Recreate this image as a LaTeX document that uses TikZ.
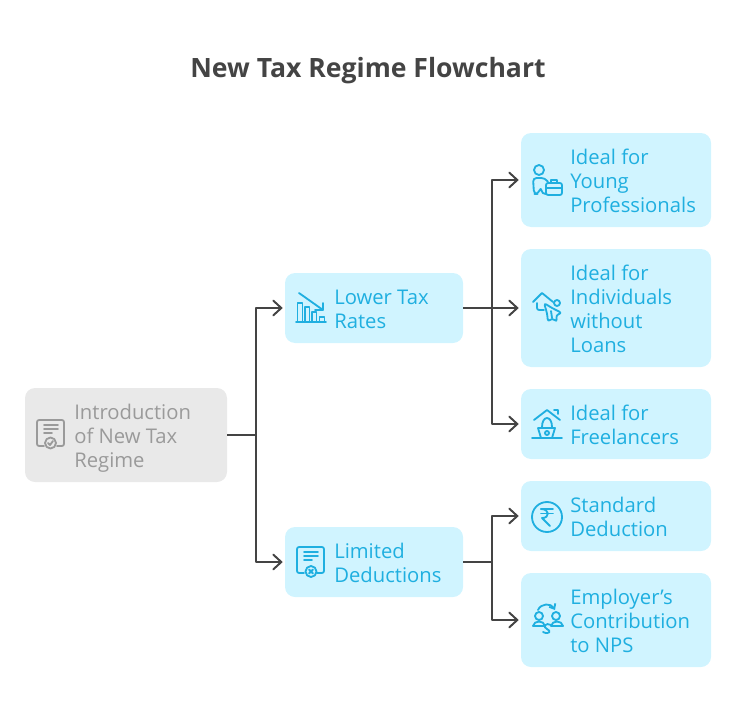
\documentclass[tikz,border=0pt]{standalone}
\usepackage{fontspec}
\setmainfont{Open Sans}
\usetikzlibrary{arrows.meta}
\definecolor{boxblue}{HTML}{D0F4FF}
\definecolor{inkblue}{HTML}{1FAFE0}
\definecolor{boxgray}{HTML}{E9E9E9}
\definecolor{inkgray}{HTML}{9A9A9A}
\definecolor{linegray}{HTML}{444444}
\tikzset{
  bluebox/.style={fill=boxblue, rounded corners=0.25cm, minimum width=#1*0.025cm},
  graybox/.style={fill=boxgray, rounded corners=0.25cm, minimum width=#1*0.025cm},
  bluetext/.style={anchor=west, align=left, inner sep=0pt, text=inkblue, font=\fontsize{14.4}{17}\selectfont},
  graytext/.style={bluetext, text=inkgray},
  link/.style={draw=linegray, line width=1.4pt, line join=round},
  linkto/.style={link, -{Straight Barb[length=5.7pt,width=10.5pt,line cap=round]}, shorten >=1.4pt},
  blueicon/.style={draw=inkblue, line width=1.3pt, line cap=round, line join=round},
  grayicon/.style={blueicon, draw=inkgray}
}
\begin{document}
\begin{tikzpicture}[x=0.025cm, y=-0.025cm]
  \useasboundingbox (0,0) rectangle (736,716);
  \node (title) at (368,71) {\fontsize{18.9}{23}\selectfont\bfseries\color{linegray}New Tax Regime Flowchart};
  % boxes
  \node[graybox=202, minimum height=94*0.025cm] (intro) at (126,435) {};
  \node[bluebox=178, minimum height=70*0.025cm] (lower) at (374,308) {};
  \node[bluebox=178, minimum height=70*0.025cm] (limited) at (374,562) {};
  \node[bluebox=190, minimum height=94*0.025cm] (young) at (616,180) {};
  \node[bluebox=190, minimum height=118*0.025cm] (indiv) at (616,308) {};
  \node[bluebox=190, minimum height=70*0.025cm] (free) at (616,424) {};
  \node[bluebox=190, minimum height=70*0.025cm] (std) at (616,516) {};
  \node[bluebox=190, minimum height=94*0.025cm] (emp) at (616,620) {};
  % texts
  \node[graytext] (introtext) at (74,438) {Introduction\\of New Tax\\Regime};
  \node[bluetext] (lowertext) at (334,309) {Lower Tax\\Rates};
  \node[bluetext] (limitedtext) at (334,563) {Limited\\Deductions};
  \node[bluetext] (youngtext) at (570,181) {Ideal for\\Young\\Professionals};
  \node[bluetext] (indivtext) at (570,309) {Ideal for\\Individuals\\without\\Loans};
  \node[bluetext] (freetext) at (570,425) {Ideal for\\Freelancers};
  \node[bluetext] (stdtext) at (570,517) {Standard\\Deduction};
  \node[bluetext] (emptext) at (570,621) {Employer's\\Contribution\\to NPS};
  % connectors
  \coordinate (j0) at (256,435);
  \coordinate (j1) at (492,308);
  \coordinate (j2) at (492,562);
  \draw[link] (intro.east) -- (j0);
  \draw[linkto] (j0) |- (lower.west);
  \draw[linkto] (j0) |- (limited.west);
  \draw[link] (lower.east) -- (j1);
  \draw[linkto] (j1) |- (young.west);
  \draw[linkto] (j1) -- (indiv.west);
  \draw[linkto] (j1) |- (free.west);
  \draw[link] (limited.east) -- (j2);
  \draw[linkto] (j2) |- (std.west);
  \draw[linkto] (j2) |- (emp.west);
  % icon intro
  \draw[grayicon, rounded corners=1.5pt] (44,446) -- (37,446) -- (37,420) -- (64,420) -- (64,446) -- (57,446);
  \draw[grayicon] (44,425) -- (58,425) (44,429) -- (58,429) (44,433) -- (52,433);
  \draw[grayicon] (50.5,443) circle (5.5);
  \draw[grayicon] (48,443) -- (50,445) -- (53,441);
  % icon lower
  \draw[blueicon] (296,322) -- (326,322);
  \draw[blueicon] (297.5,322) -- (297.5,303) -- (302.5,303) -- (302.5,322);
  \draw[blueicon] (305,322) -- (305,307) -- (309.5,307) -- (309.5,322);
  \draw[blueicon] (312,322) -- (312,312) -- (316.5,312) -- (316.5,322);
  \draw[blueicon] (319.5,322) -- (319.5,317) -- (324.5,317) -- (324.5,322);
  \draw[blueicon] (299,293) -- (323,310) (323,303) -- (323,310) -- (315,310);
  % icon limited
  \draw[blueicon, rounded corners=1.5pt] (304,573) -- (297,573) -- (297,547) -- (324,547) -- (324,573) -- (317,573);
  \draw[blueicon] (304,552) -- (318,552) (304,556) -- (318,556) (304,560) -- (312,560);
  \draw[blueicon] (311,571.5) circle (5.5);
  \draw[blueicon] (309,569.5) -- (313,573.5) (313,569.5) -- (309,573.5);
  % icon young
  \draw[blueicon] (539,170) circle (5);
  \draw[blueicon, rounded corners=2.5pt] (545,194) -- (542,194) -- (541,187) -- (538,194) -- (534,194) -- (533,178) -- (545,178) -- (548,182);
  \draw[blueicon, rounded corners=1.5pt] (546,183) rectangle (562,195);
  \draw[blueicon] (551,183) -- (551,180) -- (557,180) -- (557,183) (546,188) -- (562,188);
  % icon indiv
  \draw[blueicon] (533,302) -- (542,293) -- (553,302);
  \draw[blueicon, rounded corners=1.5pt] (537,303) -- (537,310) -- (544,310);
  \draw[blueicon] (557,303) circle (3);
  \draw[blueicon, rounded corners=2pt] (544,303) -- (552,308) -- (562,313) -- (556,315) -- (557,322) -- (552,318) -- (548,322) -- (547,313) -- cycle;
  \draw[blueicon] (551,311) -- (552,318);
  % icon free
  \draw[blueicon] (534,420) -- (547,410) -- (560,420);
  \draw[blueicon] (532,438) -- (562,438);
  \draw[blueicon] (538,428) -- (555,428) -- (552,438) (538,428) -- (541,438);
  \draw[blueicon] (547,433) circle (2);
  \draw[blueicon] (542,427) .. controls (542,415) and (552,415) .. (552,427);
  \draw[blueicon] (554,410) -- (558,410) -- (558,414);
  % icon std
  \draw[blueicon] (547,517) circle (15);
  \draw[blueicon] (541,509) -- (553,509) (541,513.5) -- (553,513.5);
  \draw[blueicon] (541,509) .. controls (550,509) and (550,518) .. (542,518) -- (550,526);
  % icon emp
  \draw[blueicon] (539,616) circle (4) (556,616) circle (4);
  \draw[blueicon] (533,626) .. controls (534,620) and (544,620) .. (545,626) -- (533,626);
  \draw[blueicon] (551,626) .. controls (552,620) and (562,620) .. (563,626) -- (551,626);
  \draw[blueicon, -{Straight Barb[length=3pt,width=5pt]}] (538,610) .. controls (541,603) and (551,603) .. (555,610);
  \draw[blueicon] (551,625) .. controls (546,622) and (542,627) .. (547,629) .. controls (552,631) and (549,635) .. (543,632);
\end{tikzpicture}
\end{document}
